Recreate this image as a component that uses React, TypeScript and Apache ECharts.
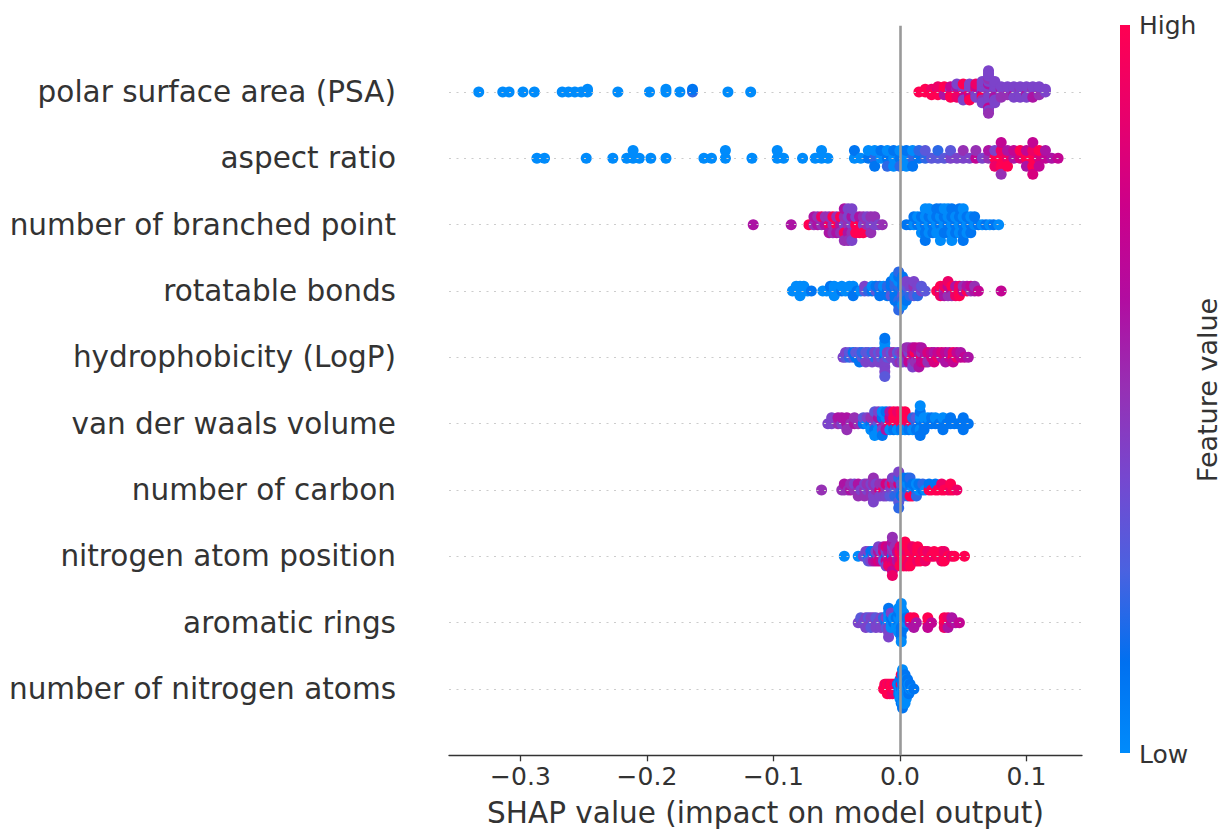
import React, { useEffect, useRef } from 'react';
import * as echarts from 'echarts';

// Features, top to bottom
const featureNames = [
  'polar surface area (PSA)',
  'aspect ratio',
  'number of branched point',
  'rotatable bonds',
  'hydrophobicity (LogP)',
  'van der waals volume',
  'number of carbon',
  'nitrogen atom position',
  'aromatic rings',
  'number of nitrogen atoms',
];
const xTicks = [-0.3, -0.2, -0.1, 0, 0.1];
const colorScale = ['#008bfb', '#0070f0', '#4a62e0', '#7548d0', '#9630b4', '#b20ca0', '#cc008a', '#e8006c', '#ff0052'];

// Each entry: [SHAP value, feature level of every sample at that SHAP value...]
// feature level: 0 = low ... 10 = high
const psa: number[][] = [
  [-0.333,0],[-0.314,0],[-0.309,0],[-0.298,0],[-0.289,0],[-0.267,0],[-0.262,0],[-0.257,0],[-0.252,0],[-0.247,0,0],
  [-0.223,0],[-0.198,0],[-0.185,0,0],[-0.174,0],[-0.164,2,1],[-0.136,0],[-0.118,0],
  [0.015,10],[0.020,10,10],[0.025,10,9,10],[0.030,10,7,10,9],[0.035,10,10,6,10],[0.040,10,4,9,7,10],
  [0.045,10,4,10,6,9,4],[0.050,9,4,10,4,7,10,4],[0.055,10,4,9,4,7,4,10],[0.060,4,10,4,7,4,9],
  [0.065,4,4,7,4,10,4,5,4,4],[0.070,4,4,5,4,4,6,4,4,4,5,4,4,7,4,4,4,5],[0.075,4,4,5,4,6,4,4,4,4],
  [0.080,4,6,4,4,5],[0.085,4,4,5,4],[0.090,4,4,6,4,4],[0.095,4,5,4,4,4],[0.100,4,4,6,4,4],[0.105,4,5,4,4,6],
  [0.110,4,4,5,4],[0.115,4,4],
];
const aspectRatio: number[][] = [
  [-0.287,0],[-0.281,0],[-0.248,0],[-0.227,0],[-0.216,0],[-0.211,0,0],[-0.206,0],[-0.197,0],[-0.185,0],[-0.155,0],[-0.149,0],
  [-0.138,0,0],[-0.117,0],[-0.097,0,0],[-0.092,0],[-0.077,0],[-0.067,0],[-0.062,0,0],[-0.057,0],[-0.036,0,1],[-0.031,0],
  [-0.025,1,0],[-0.020,2,0,1],[-0.015,0,1],[-0.010,1,0,2],[-0.005,0,1,0],[0.000,1,0,2],[0.005,0,1,0],[0.010,2,0,1],
  [0.015,1,2],[0.020,2,3],[0.025,3],[0.030,3,2],[0.035,3],[0.040,4,3],[0.045,4],[0.050,4,5],[0.055,4],[0.060,7,5],
  [0.065,4],[0.070,5,6],[0.075,10,4,9],[0.080,10,9,10,7,5],[0.085,9,6,10],[0.090,6,7],[0.095,8,10],[0.100,10,7,6],
  [0.105,10,9,10,7,8],[0.110,8,10,7],[0.115,7,6],[0.120,6],[0.125,7],
];
const branchedPoint: number[][] = [
  [-0.116,6],[-0.086,6],[-0.072,10],[-0.068,5,6],[-0.065,6,5],[-0.062,5,9],[-0.059,6,5],[-0.056,9,5,6],[-0.053,5,10,5],
  [-0.050,10,5,6],[-0.047,6,10,5],[-0.044,4,5,10,6,5],[-0.041,5,4,6,4,5],[-0.038,4,6,5,4,4],[-0.035,10,4,10],
  [-0.032,10,6,10],[-0.029,4,5,10],[-0.026,5,4],[-0.023,4,5,5],[-0.020,4,5],[-0.017,4],[-0.014,5],
  [0.005,1],[0.008,1],[0.011,0,1],[0.014,1,0],[0.017,0,1,0],[0.020,1,0,1,0,1],[0.023,0,1,0,0],[0.026,1,0,1],
  [0.029,0,1,0,1],[0.032,1,0,0,1,0],[0.035,0,1,1,0],[0.038,1,0,1,0],[0.041,0,1,0,1,0],[0.044,1,0,1],[0.047,0,1,0,1],
  [0.050,1,0,1,0,1],[0.053,0,1,0],[0.056,1,0,1],[0.059,0,1],[0.062,1],[0.065,0],[0.068,1],[0.071,0],[0.074,1],[0.078,0],
];
const rotatableBonds: number[][] = [
  [-0.085,0],[-0.082,0,0],[-0.079,0,0,0],[-0.076,0,0],[-0.073,0],[-0.070,1],[-0.061,0],[-0.058,0],[-0.055,0,1],
  [-0.052,0,0,0],[-0.049,0],[-0.046,1,0],[-0.043,0],[-0.040,0,0],[-0.037,0,0,1],[-0.034,1],[-0.031,0],[-0.028,3,4],
  [-0.025,2],[-0.022,1,0],[-0.019,3,1],[-0.016,1,2,1],[-0.013,1,0],[-0.010,1,2,1],[-0.007,2,1,3,1],[-0.004,1,2,1,2,1,0],
  [-0.001,1,2,1,0,2,1,1,2,2],[0.002,2,1,3,1,2,1,0],[0.005,1,3,2,4,1],[0.008,3,4,2],[0.011,4,5,3,4],[0.014,3,4,2],
  [0.017,4,3],[0.020,3],[0.029,10],[0.032,7,10,9],[0.035,5,9,6],[0.038,10,7,5,9],[0.041,7,10,5],[0.044,10,6,9],
  [0.047,10,9,10],[0.050,7,5],[0.053,10,6],[0.056,5,7],[0.059,6,5],[0.062,7],[0.080,7],
];
const logP: number[][] = [
  [-0.045,4],[-0.043,3,4],[-0.040,2,3],[-0.037,3,1],[-0.035,1,3],[-0.032,2,3,1],[-0.030,3,2],[-0.027,1,3,4],[-0.025,4,3],
  [-0.022,3,2,4],[-0.020,2,4],[-0.017,4,3,4],[-0.015,3,4],[-0.012,1,0,4,0,4,0,4,1,3],[-0.010,3,4],[-0.007,4,3],
  [-0.005,4,5],[-0.002,4,3,4],[0.000,0,4,5],[0.002,4,5,4],[0.005,5,6,4,5],[0.007,6,4,7,5],[0.010,10,7,5,6,4],
  [0.012,7,10,5,7],[0.015,8,6,5,7,6],[0.017,9,5,7,6],[0.020,7,6,8],[0.022,6,8,5],[0.025,8,7],[0.027,7,6,8],[0.030,9,7],
  [0.033,6,8],[0.036,8,7,6],[0.039,7,6],[0.042,10,9,7],[0.045,9,7],[0.048,7,6],[0.051,7],[0.054,6],
];
const vdwVolume: number[][] = [
  [-0.057,4],[-0.054,4,4],[-0.049,5,6],[-0.046,4,6],[-0.042,6,6,5],[-0.039,5],[-0.036,6,5],[-0.033,5],[-0.029,1,3],
  [-0.026,0,4],[-0.023,1,5,0],[-0.020,4,5,1,3,0],[-0.017,3,6,0,4],[-0.014,6,1,4,0,1],[-0.011,5,0,6,1],[-0.008,10,7,0,6],
  [-0.005,10,10,1,10],[-0.002,10,10,0,9],[0.001,10,10,1,10],[0.004,10,10,0,10],[0.007,9,10,1],[0.010,10,2,0],
  [0.013,2,3,1],[0.016,1,0,0,1,1,0],[0.019,1,0,1],[0.022,1,0],[0.025,1,1],[0.028,1,0],[0.031,1],[0.034,1,0,1],
  [0.037,1],[0.040,1,1],[0.043,1],[0.046,1],[0.050,1,1,1],[0.054,1],
];
const carbon: number[][] = [
  [-0.062,5],[-0.046,5],[-0.044,5,6],[-0.041,5],[-0.039,6,5],[-0.036,5,4],[-0.033,5,6,5],[-0.031,4],[-0.028,5,4,5],
  [-0.026,4,5],[-0.023,5,4,5],[-0.021,4,5,4,5,4],[-0.019,5,4],[-0.016,8,5,4],[-0.013,9,5,4],[-0.011,5,8,4],[-0.008,4,5,3],
  [-0.006,4,9,3,4],[-0.004,3,5,2,4],[-0.001,3,8,2,2,3,4,2],[0.001,2,3,1],[0.003,1,2,3,1],[0.006,1,0,2,1],[0.008,2,1,10,2],
  [0.010,0,1,10],[0.013,1,0,2],[0.015,0,1],[0.018,1,2],[0.020,0],[0.023,10,1],[0.025,10],[0.028,10,1],[0.030,10],
  [0.033,10,9],[0.035,10],[0.038,10],[0.040,9,10],[0.042,10],[0.045,9],
];
const nitrogenPosition: number[][] = [
  [-0.044,0],[-0.033,0],[-0.029,4],[-0.027,3,4],[-0.025,1,4,3],[-0.023,0,1,4],[-0.021,4,1,6],[-0.019,1,4,7],
  [-0.017,4,6,8,4],[-0.015,8,4,7],[-0.013,4,8,3,6],[-0.011,1,4,7,8,4],[-0.009,4,6,8,7,9],[-0.006,1,5,8,4,9,6,7,5,9],
  [-0.004,6,4,8,5],[-0.002,5,7,6],[0.000,9,10,8,9,10],[0.002,10,9,10,8,10],[0.004,10,8,10,9,10,10],[0.006,10,9,10,10,9],
  [0.008,10,10,9,10,10],[0.010,9,10,10,9],[0.012,10,9,10],[0.014,10,10,9,10],[0.016,9,10,10],[0.018,10,9],[0.020,10,10,9],
  [0.022,10,9],[0.025,10],[0.027,9,10],[0.030,10],[0.033,10,10,9],[0.035,10,9,10],[0.038,10],[0.041,9],[0.043,10],[0.051,10],
];
const aromaticRings: number[][] = [
  [-0.033,4],[-0.031,4,3],[-0.029,4],[-0.027,3,4,4],[-0.025,4,3],[-0.023,4,4,3],[-0.021,3,4],[-0.019,4,3,4],[-0.017,4],
  [-0.015,3,4,4],[-0.013,4,2],[-0.011,1,4,3],[-0.009,0,0,4,0,4,1,4],[-0.007,0,1,0,4],[-0.005,1,0],[-0.003,0,1,0],
  [-0.001,1,0,0,1,0,0],[0.001,0,0,1,0,1,0,1,0,0],[0.003,1,0,1,0],[0.005,0,1],[0.008,6,10],[0.011,7,10,6],[0.013,6],
  [0.022,10,10,7],[0.025,7],[0.035,10,10,9],[0.038,10,9,6],[0.041,7,6],[0.044,6],[0.047,7],
];
const nitrogenAtoms: number[][] = [
  [-0.013,10],[-0.012,10,10],[-0.011,10,9],[-0.010,10,10,10],[-0.009,10,10],[-0.008,10,9,10],[-0.007,10,10],
  [-0.006,10,10,9],[-0.005,10,10],[-0.004,10,9],[-0.003,10],[-0.002,9,1],[-0.001,1,0,1],[0.000,0,1,0,1,0],
  [0.001,1,10,0,1,0,10,1],[0.002,0,1,0,1,0,1,0,0,1],[0.003,1,0,1,0,1,0,0],[0.004,0,1,0,1,0,1,0],[0.005,1,0,1,0,0],
  [0.006,0,1,0,1],[0.007,1,0,1],[0.008,0,1],[0.009,1],[0.010,0],[0.011,1],
];

const featureData = [psa, aspectRatio, branchedPoint, rotatableBonds, logP, vdwVolume, carbon, nitrogenPosition, aromaticRings, nitrogenAtoms];

// expand [x, level, level, ...] entries into one sample per level
function samples(entries: number[][]): number[][] {
  const out: number[][] = [];
  entries.forEach((e) => {
    for (let k = 1; k < e.length; k++) out.push([e[0], e[k]]);
  });
  return out;
}

// SHAP-style beeswarm: quantize x into 100 bins, stack alternately above/below
function beeswarm(points: number[][], pos: number): number[][] {
  const xs = points.map((p) => p[0]);
  const mn = Math.min(...xs);
  const mx = Math.max(...xs);
  const quant = xs.map((x) => Math.round((100 * (x - mn)) / (mx - mn + 1e-8)));
  const inds = xs.map((_, i) => i).sort((a, b) => quant[a] - quant[b] || a - b);
  const ys = new Array(xs.length).fill(0);
  let layer = 0;
  let last = -1;
  for (const ind of inds) {
    if (quant[ind] !== last) layer = 0;
    ys[ind] = Math.ceil(layer / 2) * ((layer % 2) * 2 - 1);
    layer += 1;
    last = quant[ind];
  }
  const maxY = Math.max(...ys.map((y) => y + 1));
  const scale = (0.9 * 0.4) / maxY;
  return points.map((p, i) => [p[0], pos + ys[i] * scale, p[1]]);
}

const FONT = '"DejaVu Sans", "Liberation Sans", sans-serif';

export default function App() {
  const ref = useRef<HTMLDivElement>(null);
  useEffect(() => {
    const chart = echarts.init(ref.current as HTMLDivElement, null, { renderer: 'svg' });
    const n = featureNames.length;
    const points: number[][] = [];
    featureData.forEach((entries, i) => {
      points.push(...beeswarm(samples(entries), n - 1 - i));
    });
    const rowPositions = featureNames.map((_, i) => i);
    const gradStops = colorScale.map((c, i) => ({ offset: 1 - i / (colorScale.length - 1), color: c })).reverse();

    chart.setOption({
      animation: false,
      backgroundColor: '#ffffff',
      textStyle: { fontFamily: FONT },
      grid: { left: 449, right: 143, top: 25.7, bottom: 74.7, containLabel: false, outerBoundsMode: 'none' },
      xAxis: {
        type: 'value',
        min: -0.3565,
        max: 0.1439,
        axisLine: { show: true, onZero: false, lineStyle: { color: '#333333', width: 1.3 } },
        axisTick: { show: true, length: 6, lineStyle: { color: '#333333', width: 1.3 }, customValues: xTicks },
        axisLabel: {
          customValues: xTicks,
          fontSize: 25,
          color: '#333333',
          fontFamily: FONT,
          margin: 9,
          formatter: (v: number) => (v < -1e-9 ? '\u2212' : '') + Math.abs(v).toFixed(1),
        },
        splitLine: { show: false },
        name: 'SHAP value (impact on model output)',
        nameLocation: 'middle',
        nameGap: 43,
        nameTextStyle: { fontSize: 29.5, color: '#333333', fontFamily: FONT },
      },
      yAxis: {
        type: 'value',
        min: -1,
        max: 10,
        axisLine: { show: false },
        axisTick: { show: false },
        splitLine: { show: false },
        axisLabel: {
          customValues: rowPositions,
          fontSize: 29.5,
          color: '#333333',
          fontFamily: FONT,
          margin: 53,
          formatter: (v: number) => featureNames[n - 1 - Math.round(v)] ?? '',
        },
      },
      visualMap: {
        show: false,
        type: 'continuous',
        min: 0,
        max: 10,
        dimension: 2,
        seriesIndex: 1,
        inRange: { color: colorScale },
      },
      series: [
        {
          type: 'scatter',
          data: [],
          silent: true,
          z: 1,
          markLine: {
            silent: true,
            symbol: ['none', 'none'],
            label: { show: false },
            animation: false,
            data: [
              ...rowPositions.map((p) => ({ yAxis: p, lineStyle: { color: '#cccccc', width: 1.2, type: [2, 5.5] } })),
              { xAxis: 0, lineStyle: { color: '#999999', width: 2.6, type: 'solid' } },
            ],
          },
        },
        {
          type: 'scatter',
          z: 2,
          symbolSize: 11,
          itemStyle: { opacity: 1 },
          data: points,
        },
      ],
      graphic: [
        {
          type: 'rect',
          shape: { x: 1120, y: 25, width: 10, height: 728 },
          style: { fill: new echarts.graphic.LinearGradient(0, 0, 0, 1, gradStops) },
        },
        {
          type: 'text',
          x: 1139,
          y: 25,
          style: { text: 'High', fill: '#333333', font: `25px ${FONT}`, textAlign: 'left', textVerticalAlign: 'middle', align: 'left', verticalAlign: 'middle' },
        },
        {
          type: 'text',
          x: 1139,
          y: 754,
          style: { text: 'Low', fill: '#333333', font: `25px ${FONT}`, textAlign: 'left', textVerticalAlign: 'middle', align: 'left', verticalAlign: 'middle' },
        },
        {
          type: 'text',
          x: 1207,
          y: 390,
          rotation: Math.PI / 2,
          style: { text: 'Feature value', fill: '#333333', font: `27px ${FONT}`, textAlign: 'center', textVerticalAlign: 'middle', align: 'center', verticalAlign: 'middle' },
        },
      ],
    });
    return () => chart.dispose();
  }, []);
  return <div ref={ref} style={{ position: 'absolute', left: 0, top: 0, width: 1225, height: 830 }} />;
}
